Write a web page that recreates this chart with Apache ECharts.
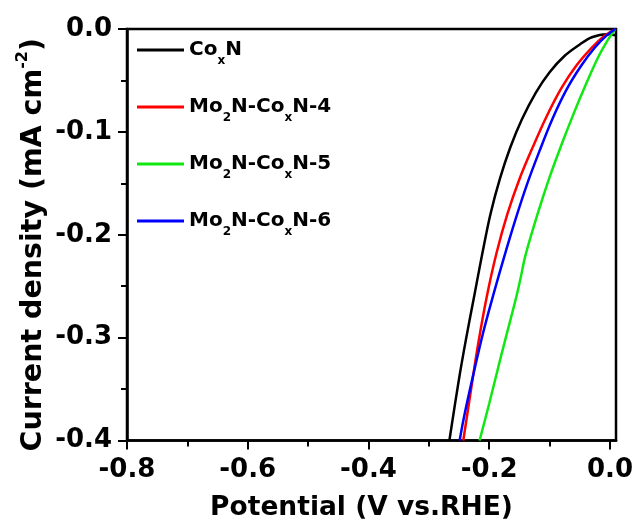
<!DOCTYPE html>
<html>
<head>
<meta charset="utf-8">
<script src="https://cdn.jsdelivr.net/npm/echarts@6/dist/echarts.min.js"></script>
<style>html,body{margin:0;padding:0;background:#fff;}#chart{width:636px;height:527px;}</style>
</head>
<body>
<div id="chart"></div>
<script>
// Series names (legend)
var seriesNames = ['CoxN', 'Mo2N-CoxN-4', 'Mo2N-CoxN-5', 'Mo2N-CoxN-6'];
// Axis tick values
var xTicks = [-0.8, -0.6, -0.4, -0.2, 0.0];
var yTicks = [-0.4, -0.3, -0.2, -0.1, 0.0];

// CoxN (black): potential (V vs. RHE) and current density (mA cm-2)
var coxnV = [0.009, -0.005, -0.030, -0.050, -0.075, -0.100, -0.123, -0.146, -0.165, -0.182, -0.198, -0.212, -0.225, -0.238, -0.250, -0.266];
var coxnJ = [-0.006, -0.005, -0.008, -0.015, -0.026, -0.042, -0.062, -0.088, -0.115, -0.145, -0.180, -0.220, -0.260, -0.300, -0.340, -0.400];

// Mo2N-CoxN-4 (red)
var mo4V = [0.009, -0.010, -0.030, -0.055, -0.080, -0.105, -0.128, -0.150, -0.170, -0.188, -0.204, -0.218, -0.230, -0.243];
var mo4J = [0.000, -0.007, -0.018, -0.035, -0.057, -0.085, -0.115, -0.146, -0.180, -0.218, -0.260, -0.305, -0.350, -0.400];

// Mo2N-CoxN-5 (green)
var mo5V = [0.009, -0.005, -0.020, -0.040, -0.060, -0.080, -0.100, -0.120, -0.140, -0.148, -0.155, -0.165, -0.180, -0.200, -0.216];
var mo5J = [0.000, -0.012, -0.028, -0.054, -0.082, -0.112, -0.144, -0.180, -0.220, -0.242, -0.260, -0.283, -0.317, -0.364, -0.400];

// Mo2N-CoxN-6 (blue)
var mo6V = [0.009, -0.005, -0.025, -0.048, -0.072, -0.095, -0.117, -0.138, -0.157, -0.175, -0.193, -0.210, -0.226, -0.241, -0.249];
var mo6J = [0.000, -0.006, -0.018, -0.036, -0.059, -0.087, -0.119, -0.152, -0.186, -0.221, -0.258, -0.295, -0.335, -0.375, -0.400];

var colors = ['#000000', '#ff0000', '#11e811', '#0000ff'];

function pairs(v, j) { return v.map(function (x, i) { return [x, j[i]]; }); }
var allData = [pairs(coxnV, coxnJ), pairs(mo4V, mo4J), pairs(mo5V, mo5J), pairs(mo6V, mo6J)];

var FONT = '"DejaVu Sans", "Liberation Sans", Arial, sans-serif';
function fmt(v) { return (Math.abs(v) < 1e-9 ? 0 : v).toFixed(1); }

var chart = echarts.init(document.getElementById('chart'), null, { renderer: 'canvas' });
chart.setOption({
  animation: false,
  backgroundColor: '#ffffff',
  grid: {
    left: 127, top: 29, right: 16.5, bottom: 86.5,
    show: true, borderColor: '#000', borderWidth: 2.5, backgroundColor: 'transparent'
  },
  legend: {
    orient: 'vertical', left: 137, top: 33, padding: 0,
    itemWidth: 47, itemHeight: 3, itemGap: 23, icon: 'rect',
    data: seriesNames,
    formatter: function (name) {
      return name.replace('Mo2N', 'Mo{sub|2}N').replace('CoxN', 'Co{sub|x}N');
    },
    textStyle: {
      fontFamily: FONT, fontWeight: 'bold', fontSize: 20, color: '#000', lineHeight: 34,
      rich: {
        sub: { fontFamily: FONT, fontWeight: 'bold', fontSize: 12, color: '#000', verticalAlign: 'bottom', lineHeight: 12 }
      }
    }
  },
  xAxis: {
    type: 'value', min: -0.8, max: 0.01, interval: 0.2,
    name: 'Potential (V vs.RHE)', nameLocation: 'middle', nameGap: 54, nameMoveOverlap: false,
    nameTextStyle: { fontFamily: FONT, fontWeight: 'bold', fontSize: 26.5, color: '#000', padding: [0, 20, 0, 0] },
    axisLine: { show: true, onZero: false, lineStyle: { color: '#000', width: 2.5 } },
    axisTick: { show: true, inside: false, length: 9, customValues: xTicks, lineStyle: { color: '#000', width: 2 } },
    minorTick: { show: true, splitNumber: 2, length: 6, lineStyle: { color: '#000', width: 2 } },
    axisLabel: { margin: 17, customValues: xTicks, formatter: fmt, fontFamily: FONT, fontWeight: 'bold', fontSize: 26, color: '#000' },
    splitLine: { show: false }
  },
  yAxis: {
    type: 'value', min: -0.4, max: 0, interval: 0.1,
    name: 'Current density (mA cm{sup|-2})', nameLocation: 'middle', nameGap: 74, nameRotate: 90, nameMoveOverlap: false,
    nameTextStyle: {
      fontFamily: FONT, fontWeight: 'bold', fontSize: 28.5, color: '#000', lineHeight: 38,
      padding: [0, 20, 0, 0],
      rich: { sup: { fontFamily: FONT, fontWeight: 'bold', fontSize: 16, color: '#000', verticalAlign: 'top', lineHeight: 16 } }
    },
    axisLine: { show: true, onZero: false, lineStyle: { color: '#000', width: 2.5 } },
    axisTick: { show: true, inside: false, length: 9, lineStyle: { color: '#000', width: 2 } },
    minorTick: { show: true, splitNumber: 2, length: 6, lineStyle: { color: '#000', width: 2 } },
    axisLabel: { margin: 15, formatter: fmt, fontFamily: FONT, fontWeight: 'bold', fontSize: 26, color: '#000' },
    splitLine: { show: false }
  },
  series: seriesNames.map(function (n, i) {
    return {
      name: n, type: 'line', data: allData[i], showSymbol: false, symbol: 'none',
      smooth: 0.35, clip: true,
      color: colors[i],
      lineStyle: { color: colors[i], width: 2.5 }
    };
  })
});
</script>
</body>
</html>
